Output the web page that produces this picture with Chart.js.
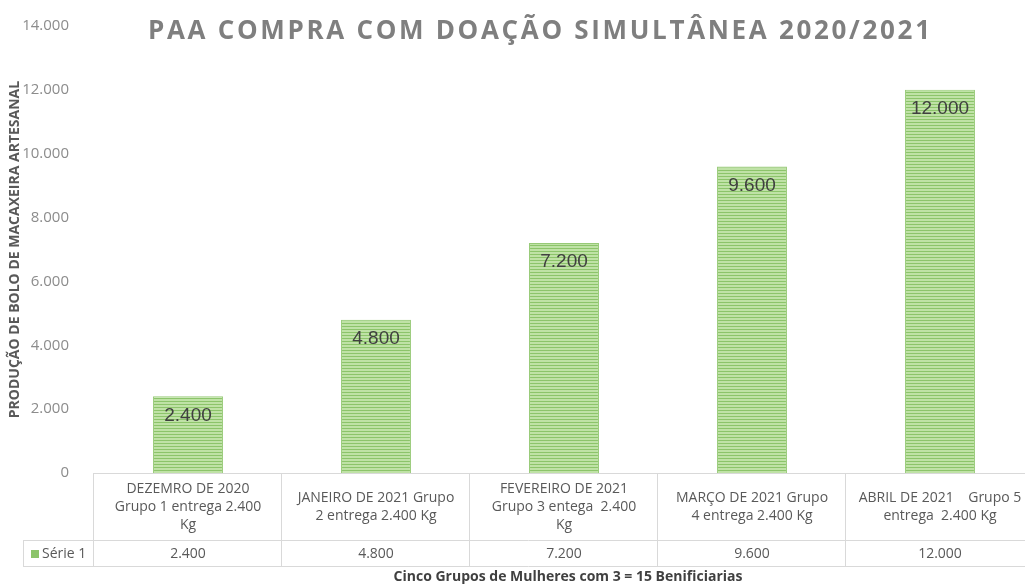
<!DOCTYPE html>
<html>
<head>
<meta charset="utf-8">
<script src="https://cdn.jsdelivr.net/npm/chart.js@4.4.1/dist/chart.umd.min.js"></script>
<style>
  html, body { margin: 0; padding: 0; background: #fff; overflow: hidden; }
  #wrap { width: 1040px; height: 586px; }
</style>
</head>
<body>
<div id="wrap"><canvas id="c" width="1040" height="586"></canvas></div>
<script>
const chartTitle = "PAA COMPRA COM DOAÇÃO SIMULTÂNEA 2020/2021";
const yAxisTitle = "PRODUÇÃO DE BOLO DE MACAXEIRA ARTESANAL";
const xAxisTitle = "Cinco Grupos de Mulheres com 3 = 15 Benificiarias";
const seriesName = "Série 1";
const categories = [
  ["DEZEMRO DE 2020", "Grupo 1 entrega 2.400", "Kg"],
  ["JANEIRO DE 2021 Grupo", "2 entrega 2.400 Kg"],
  ["FEVEREIRO DE 2021", "Grupo 3 entega  2.400", "Kg"],
  ["MARÇO DE 2021 Grupo", "4 entrega 2.400 Kg"],
  ["ABRIL DE 2021    Grupo 5", "entrega  2.400 Kg"]
];
const values = [2400, 4800, 7200, 9600, 12000];
const yMin = 0, yMax = 14000, yStep = 2000;

function fmt(v) {
  return String(Math.round(v)).replace(/\B(?=(\d{3})+(?!\d))/g, ".");
}

function makePattern() {
  const p = document.createElement("canvas");
  p.width = 4; p.height = 3;
  const g = p.getContext("2d");
  g.fillStyle = "#bfe2a6"; g.fillRect(0, 0, 4, 3);
  g.fillStyle = "#8cc46a"; g.fillRect(0, 2, 4, 1);
  return document.getElementById("c").getContext("2d").createPattern(p, "repeat");
}

const FONT = '"Open Sans", "DejaVu Sans", sans-serif';
const lineColor = "#d9d9d9";

const decorPlugin = {
  id: "decor",
  afterDraw(chart) {
    const ctx = chart.ctx;
    const xs = chart.scales.x;
    const ca = chart.chartArea;
    const n = categories.length;
    const step = (ca.right - ca.left) / n;
    const top = ca.bottom, mid = 540, bot = 566, leftCell = 23;
    ctx.save();
    // Title
    ctx.font = 'bold 26px ' + FONT;
    ctx.fillStyle = "#7f7f7f";
    ctx.textAlign = "left";
    ctx.textBaseline = "middle";
    ctx.letterSpacing = "0px";
    const plain = ctx.measureText(chartTitle).width;
    const targetW = 782;
    const sp = Math.max(0, (targetW - plain) / (chartTitle.length - 1));
    ctx.letterSpacing = sp.toFixed(2) + "px";
    ctx.fillText(chartTitle, 539 - targetW / 2, 32);
    ctx.letterSpacing = "0px";

    // Table lines
    ctx.strokeStyle = lineColor;
    ctx.lineWidth = 1;
    ctx.beginPath();
    ctx.moveTo(ca.left, top + 0.5); ctx.lineTo(ca.right, top + 0.5);
    ctx.moveTo(leftCell, mid + 0.5); ctx.lineTo(ca.right, mid + 0.5);
    ctx.moveTo(leftCell, bot + 0.5); ctx.lineTo(ca.right, bot + 0.5);
    ctx.moveTo(leftCell + 0.5, mid); ctx.lineTo(leftCell + 0.5, bot);
    for (let i = 0; i <= n; i++) {
      const x = Math.round(ca.left + i * step) - 0.5;
      ctx.moveTo(x, top); ctx.lineTo(x, bot);
    }
    ctx.stroke();

    // Category labels
    ctx.font = '14px ' + FONT;
    ctx.fillStyle = "#595959";
    ctx.textAlign = "center";
    ctx.textBaseline = "middle";
    const lh = 18;
    categories.forEach((lines, i) => {
      const x = xs.getPixelForValue(i);
      const cy = (top + mid) / 2 + 1;
      const y0 = cy - (lines.length - 1) * lh / 2;
      lines.forEach((t, k) => ctx.fillText(t, x, y0 + k * lh));
      ctx.fillText(fmt(values[i]), x, (mid + bot) / 2 + 1);
    });
    // Legend key
    ctx.fillStyle = "#8cc46a";
    ctx.fillRect(31, 550, 8, 8);
    ctx.fillStyle = "#595959";
    ctx.textAlign = "left";
    ctx.fillText(seriesName, 42, (mid + bot) / 2 + 1);

    // X axis title
    ctx.font = 'bold 14px ' + FONT;
    ctx.fillStyle = "#404040";
    ctx.textAlign = "center";
    ctx.fillText(xAxisTitle, (ca.left + ca.right) / 2 + 4, 577);
    ctx.restore();
  },
  afterDatasetsDraw(chart) {
    const ctx = chart.ctx;
    const meta = chart.getDatasetMeta(0);
    ctx.save();
    ctx.font = '19px "Liberation Sans", Arial, sans-serif';
    ctx.fillStyle = "#404040";
    ctx.textAlign = "center";
    ctx.textBaseline = "middle";
    meta.data.forEach((bar, i) => {
      ctx.fillText(fmt(values[i]), bar.x, bar.y + 19);
    });
    ctx.restore();
  }
};

new Chart(document.getElementById("c"), {
  type: "bar",
  data: {
    labels: categories,
    datasets: [{
      label: seriesName,
      data: values,
      backgroundColor: makePattern(),
      borderColor: "#97ca77",
      borderWidth: 1,
      categoryPercentage: 1,
      barPercentage: 0.372
    }]
  },
  options: {
    responsive: false,
    devicePixelRatio: 1,
    animation: false,
    layout: { padding: { left: 7, top: 21, right: 6, bottom: 0 } },
    plugins: { legend: { display: false }, title: { display: false }, tooltip: { enabled: false } },
    scales: {
      x: {
        grid: { display: false },
        border: { display: false },
        ticks: { display: false },
        afterFit(s) { s.height = 113; }
      },
      y: {
        min: yMin, max: yMax,
        grid: { display: false },
        border: { display: false },
        ticks: {
          stepSize: yStep,
          padding: 17,
          color: "#8c8c8c",
          font: { family: FONT, size: 15 },
          callback: v => fmt(v)
        },
        title: {
          display: true,
          text: yAxisTitle,
          color: "#595959",
          font: { family: FONT, size: 14, weight: "bold" },
          padding: { top: 0, bottom: 2 }
        },
        afterFit(s) { s.width = 87; }
      }
    }
  },
  plugins: [decorPlugin]
});
</script>
</body>
</html>
